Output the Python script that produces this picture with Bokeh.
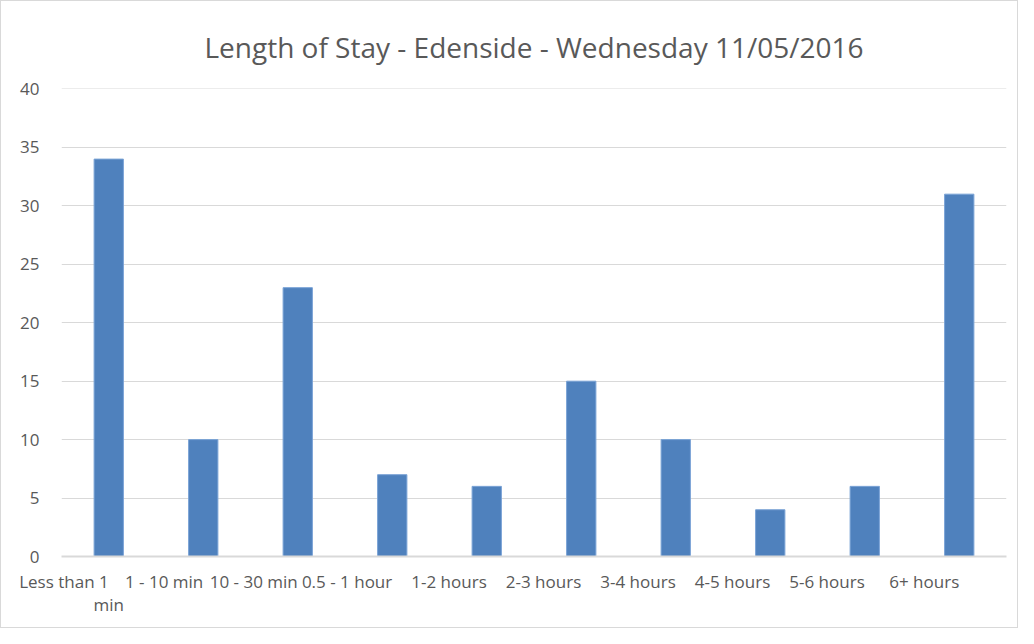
from bokeh.plotting import figure
from bokeh.models import Range1d, ColumnDataSource, LinearAxis, FixedTicker
from bokeh.embed import file_html
from bokeh.resources import INLINE

categories = ["Less than 1\nmin", "1 - 10 min", "10 - 30 min", "0.5 - 1 hour", "1-2 hours",
              "2-3 hours", "3-4 hours", "4-5 hours", "5-6 hours", "6+ hours"]
values = [34, 10, 23, 7, 6, 15, 10, 4, 6, 31]
y_ticks = [0, 5, 10, 15, 20, 25, 30, 35, 40]

FONT = "Open Sans"
GRAY = "#595959"

xpos = [i + 0.5 for i in range(len(categories))]
src = ColumnDataSource(dict(x=xpos, val=values))

p = figure(x_range=Range1d(0, len(categories)), y_range=Range1d(0, 40.04),
           width=1018, height=628, output_backend="svg", toolbar_location=None,
           title="Length of Stay - Edenside - Wednesday 11/05/2016",
           min_border_left=60, min_border_right=13, min_border_top=87, min_border_bottom=73)

p.vbar(x="x", top="val", width=0.31, source=src, fill_color="#4f81bd",
       line_color="#7aa3d6", line_width=1)

p.title.align = "center"
p.title.text_font = FONT
p.title.text_font_size = "28px"
p.title.text_font_style = "normal"
p.title.text_color = GRAY
p.title.standoff = 46

p.outline_line_color = None
p.styles = {"border": "1px solid #d9d9d9", "box-sizing": "border-box"}

p.yaxis.ticker = y_ticks
p.yaxis.axis_line_color = None
p.yaxis.major_tick_line_color = None
p.yaxis.minor_tick_line_color = None
p.yaxis.major_label_text_font = FONT
p.yaxis.major_label_text_font_size = "17px"
p.yaxis.major_label_text_color = GRAY
p.yaxis.major_label_standoff = 16

first_lines = {x: c.split("\n")[0] for x, c in zip(xpos, categories)}
second_lines = {x: c.split("\n")[1] for x, c in zip(xpos, categories) if "\n" in c}

xa = p.xaxis[0]
xa.ticker = FixedTicker(ticks=xpos)
xa.major_label_overrides = first_lines
xa.axis_line_color = "#d9d9d9"
xa.axis_line_width = 2
xa.major_tick_line_color = None
xa.minor_tick_line_color = None
xa.major_tick_out = 0
xa.major_tick_in = 0
xa.major_label_text_font = FONT
xa.major_label_text_font_size = "17px"
xa.major_label_text_color = GRAY
xa.major_label_standoff = 25
xa.major_label_orientation = 0

# wrapped second line of tick labels
xa2 = LinearAxis(ticker=FixedTicker(ticks=list(second_lines.keys())),
                 major_label_overrides=second_lines)
xa2.axis_line_color = None
xa2.major_tick_line_color = None
xa2.minor_tick_line_color = None
xa2.major_tick_out = 0
xa2.major_tick_in = 0
xa2.major_label_text_font = FONT
xa2.major_label_text_font_size = "17px"
xa2.major_label_text_color = GRAY
xa2.major_label_standoff = -15
p.add_layout(xa2, "below")

p.xgrid.grid_line_color = None
p.ygrid.grid_line_color = "#d9d9d9"
p.ygrid.grid_line_width = 1

open("out.html", "w").write(file_html(p, INLINE))
